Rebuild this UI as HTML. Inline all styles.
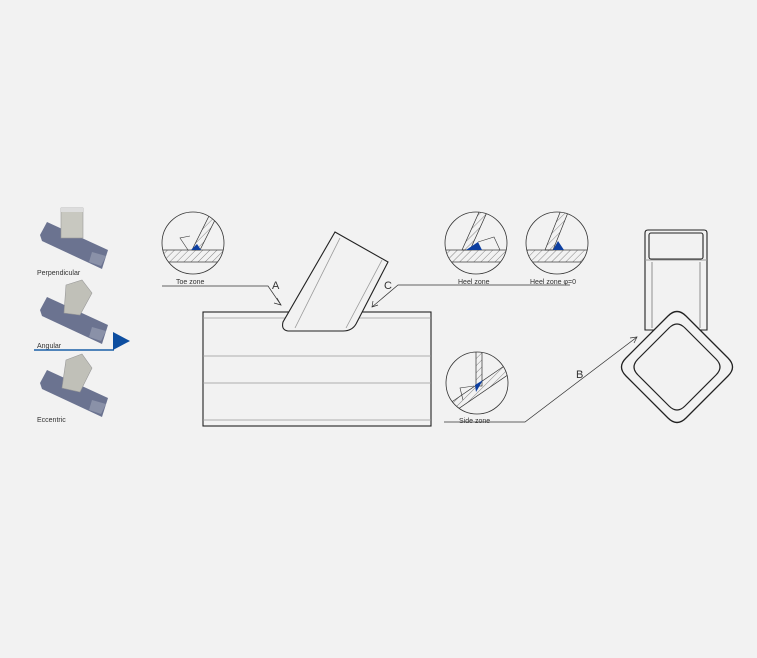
<!DOCTYPE html>
<html><head><meta charset="utf-8"><style>
html,body{margin:0;padding:0;background:#f2f2f2;}
svg{display:block;}
text{font-family:"Liberation Sans",sans-serif;}
</style></head><body>
<svg width="757" height="658" viewBox="0 0 757 658" xmlns="http://www.w3.org/2000/svg">
<rect width="757" height="658" fill="#f2f2f2"/>
<defs>
<pattern id="h" width="5" height="5" patternUnits="userSpaceOnUse" patternTransform="rotate(45)">
<line x1="0" y1="0" x2="0" y2="5" stroke="#555" stroke-width="0.7"/>
</pattern>
<clipPath id="c1"><circle cx="193" cy="243" r="31"/></clipPath>
<clipPath id="c2"><circle cx="476" cy="243" r="31"/></clipPath>
<clipPath id="c3"><circle cx="557" cy="243" r="31"/></clipPath>
<clipPath id="c4"><circle cx="477" cy="383" r="31"/></clipPath>
</defs>

<g>
<polygon points="40,235 47,222 108,250 102,269 42,241" fill="#6b7390"/>
<polygon points="92,252 106,256 101,266 89,262" fill="#8a91a8"/>
<rect x="61" y="208" width="22" height="30" fill="#c8c8c0" stroke="#999" stroke-width="0.6"/>
<rect x="61" y="208" width="22" height="4" fill="#ddd"/>
</g>
<g transform="translate(0,75)">
<polygon points="40,235 47,222 108,250 102,269 42,241" fill="#6b7390"/>
<polygon points="92,252 106,256 101,266 89,262" fill="#8a91a8"/>
<polygon points="66,210 82,205 92,218 80,240 64,238" fill="#c0c0b8" stroke="#999" stroke-width="0.6"/>
</g>
<g transform="translate(0,148)">
<polygon points="40,235 47,222 108,250 102,269 42,241" fill="#6b7390"/>
<polygon points="92,252 106,256 101,266 89,262" fill="#8a91a8"/>
<polygon points="66,212 82,206 92,220 80,244 62,240" fill="#c0c0b8" stroke="#999" stroke-width="0.6"/>
</g>
<text x="37" y="275" font-size="7" fill="#333">Perpendicular</text>
<text x="37" y="348" font-size="7" fill="#333">Angular</text>
<text x="37" y="422" font-size="7" fill="#333">Eccentric</text>
<line x1="34" y1="350" x2="114" y2="350" stroke="#1a5fa8" stroke-width="1.5"/>
<polygon points="113,332 130,341 113,350" fill="#0d4ea0"/>

<g fill="none" stroke="#222" stroke-width="1.1">
<rect x="203" y="312" width="228" height="114"/>
</g>
<g stroke="#999" stroke-width="0.8">
<line x1="203" y1="318" x2="431" y2="318"/>
<line x1="203" y1="356" x2="431" y2="356"/>
<line x1="203" y1="383" x2="431" y2="383"/>
<line x1="203" y1="420" x2="431" y2="420"/>
</g>
<path d="M335,232 L388,262 L356,324 Q352,331 343,331 L288,331 Q281,330 283,322 Z" fill="#f2f2f2" stroke="#222" stroke-width="1.1"/>
<line x1="340" y1="238" x2="295" y2="328" stroke="#999" stroke-width="0.8"/>
<line x1="382" y1="260" x2="346" y2="328" stroke="#999" stroke-width="0.8"/>

<g stroke="#333" stroke-width="0.7" fill="none">
<polyline points="162,286 268,286 281,305"/>
<polyline points="277,298 281,305 274,303"/>
<polyline points="570,285 398,285 372,307"/>
<polyline points="373,301 372,307 378,305"/>
<polyline points="444,422 525,422 637,337"/>
<polyline points="630,338 637,337 634,343"/>
</g>
<text x="272" y="289" font-size="11" fill="#333">A</text>
<text x="384" y="289" font-size="11" fill="#333">C</text>
<text x="576" y="378" font-size="11" fill="#333">B</text>

<g clip-path="url(#c1)">
<rect x="160" y="250" width="70" height="12" fill="url(#h)" stroke="#333" stroke-width="0.7"/>
<polygon points="212,210 220,210 200,250 192,250" fill="url(#h)" stroke="#333" stroke-width="0.7"/>
<polygon points="191,250 197,244 201,250" fill="#0d3fa0"/>
<polyline points="188,250 180,238 190,236" fill="none" stroke="#333" stroke-width="0.6"/>
</g>
<circle cx="193" cy="243" r="31" fill="none" stroke="#333" stroke-width="0.8"/>
<text x="176" y="284" font-size="7" fill="#333">Toe zone</text>

<g clip-path="url(#c2)">
<rect x="443" y="250" width="70" height="12" fill="url(#h)" stroke="#333" stroke-width="0.7"/>
<polygon points="480,210 488,210 470,250 462,250" fill="url(#h)" stroke="#333" stroke-width="0.7"/>
<polygon points="466,250 478,242 482,250" fill="#0d3fa0"/>
<polyline points="478,242 494,237 500,250" fill="none" stroke="#333" stroke-width="0.6"/>
</g>
<circle cx="476" cy="243" r="31" fill="none" stroke="#333" stroke-width="0.8"/>
<text x="458" y="284" font-size="7" fill="#333">Heel zone</text>

<g clip-path="url(#c3)">
<rect x="524" y="250" width="70" height="12" fill="url(#h)" stroke="#333" stroke-width="0.7"/>
<polygon points="561,210 569,210 553,250 545,250" fill="url(#h)" stroke="#333" stroke-width="0.7"/>
<polygon points="553,250 558,241 564,250" fill="#0d3fa0"/>
</g>
<circle cx="557" cy="243" r="31" fill="none" stroke="#333" stroke-width="0.8"/>
<text x="530" y="284" font-size="7" fill="#333">Heel zone φ=0</text>

<g clip-path="url(#c4)">
<polygon points="440,410 510,362 515,370 445,418" fill="url(#h)" stroke="#333" stroke-width="0.7"/>
<rect x="476" y="350" width="6" height="36" fill="url(#h)" stroke="#333" stroke-width="0.7"/>
<polygon points="475,385 483,380 476,392" fill="#0d3fa0"/>
<polyline points="474,386 460,388 463,400" fill="none" stroke="#333" stroke-width="0.6"/>
</g>
<circle cx="477" cy="383" r="31" fill="none" stroke="#333" stroke-width="0.8"/>
<text x="459" y="423" font-size="7" fill="#333">Side zone</text>

<g fill="none" stroke="#222" stroke-width="1.1">
<path d="M645,233 Q645,230 648,230 L704,230 Q707,230 707,233 L707,330 L645,330 Z" fill="#f2f2f2"/>
<rect x="649" y="233" width="54" height="26" rx="2"/>
<line x1="645" y1="260" x2="707" y2="260" stroke="#999"/>
<line x1="652" y1="262" x2="652" y2="328" stroke="#999"/>
<line x1="700" y1="262" x2="700" y2="328" stroke="#999"/>
<path d="M668,316 Q677,307 686,316 L728,358 Q737,367 728,376 L686,418 Q677,427 668,418 L626,376 Q617,367 626,358 Z" fill="#f2f2f2" stroke-width="1.3"/>
<path d="M669,328 Q677,320 685,328 L716,359 Q724,367 716,375 L685,406 Q677,414 669,406 L638,375 Q630,367 638,359 Z" stroke-width="1.2"/>
</g>
</svg>
</body></html>
